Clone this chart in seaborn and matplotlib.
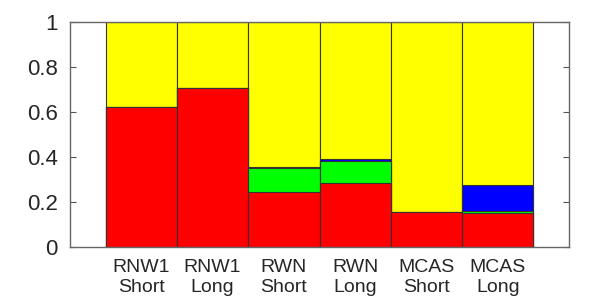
import matplotlib
matplotlib.use("Agg")
import matplotlib.pyplot as plt
import seaborn as sns
import pandas as pd
import numpy as np

categories = ["RNW1\nShort", "RNW1\nLong", "RWN\nShort", "RWN\nLong", "MCAS\nShort", "MCAS\nLong"]
red = [0.623, 0.706, 0.243, 0.284, 0.156, 0.152]
green = [0.0, 0.0, 0.107, 0.098, 0.0, 0.010]
blue = [0.0, 0.0, 0.005, 0.009, 0.0, 0.114]
yticks = [0, 0.2, 0.4, 0.6, 0.8, 1]
ytick_labels = ["0", "0.2", "0.4", "0.6", "0.8", "1"]

sns.set_theme(style="white")
plt.rcParams["font.family"] = ["Liberation Sans", "DejaVu Sans"]

df = pd.DataFrame({"cat": categories, "red": red, "green": green, "blue": blue})
df["c_green"] = df["red"] + df["green"]
df["c_blue"] = df["c_green"] + df["blue"]
df["c_yellow"] = 1.0

fig = plt.figure(figsize=(6, 3), dpi=100)
ax = fig.add_axes([70/600, 53/300, 499/600, 225/300])

layers = [("c_yellow", "#ffff00"), ("c_blue", "#0000ff"), ("c_green", "#00ff00"), ("red", "#ff0000")]
for col, color in layers:
    sns.barplot(data=df, x="cat", y=col, color=color, width=1.0, saturation=1,
                edgecolor="#333333", linewidth=0.8, ax=ax)

ax.set_xlim(-1, 6)
ax.set_ylim(0, 1)
ax.set_xlabel("")
ax.set_ylabel("")
ax.set_yticks(yticks)
ax.set_yticklabels(ytick_labels, fontsize=16)
ax.tick_params(axis="y", direction="in", length=4, width=0.8, color="#555555", right=True, left=True, pad=9)
ax.tick_params(axis="x", length=0, labelsize=14, pad=9)
for s in ax.spines.values():
    s.set_visible(True)
    s.set_color("#666666")
    s.set_linewidth(1.0)

fig.savefig("out.png", dpi=100)
